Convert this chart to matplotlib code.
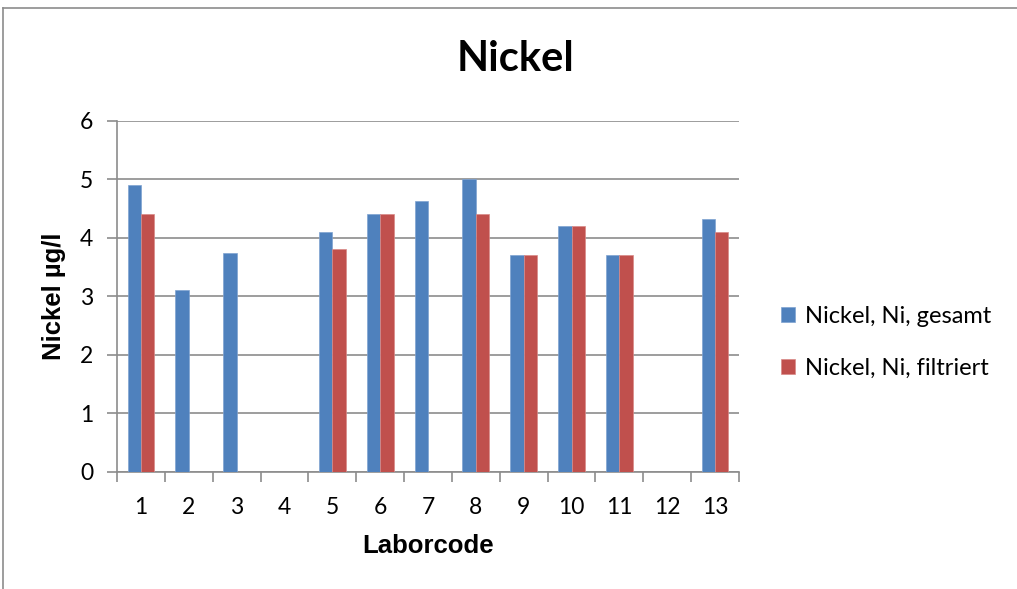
import matplotlib
matplotlib.use("Agg")
import matplotlib.pyplot as plt
from matplotlib.lines import Line2D
import numpy as np

categories = ["1", "2", "3", "4", "5", "6", "7", "8", "9", "10", "11", "12", "13"]
gesamt = [4.9, 3.1, 3.73, np.nan, 4.1, 4.4, 4.62, 5.0, 3.7, 4.2, 3.7, np.nan, 4.32]
filtriert = [4.4, np.nan, np.nan, np.nan, 3.8, 4.4, np.nan, 4.4, 3.7, 4.2, 3.7, np.nan, 4.1]
series_names = ["Nickel, Ni, gesamt", "Nickel, Ni, filtriert"]
yticks = [0, 1, 2, 3, 4, 5, 6]

W, H = 1017, 589
fig = plt.figure(figsize=(W / 100, H / 100), dpi=100)
fig.patch.set_facecolor("white")

# outer chart border (top and left visible)
fig.add_artist(Line2D([3 / W, 1.0], [1 - 8 / H, 1 - 8 / H], color="#8c8c8c", lw=1.2, transform=fig.transFigure))
fig.add_artist(Line2D([3 / W, 3 / W], [0, 1 - 8 / H], color="#8c8c8c", lw=1.2, transform=fig.transFigure))

left, right = 117 / W, 739 / W
bottom, top = 1 - 471.7 / H, 1 - 120.7 / H
ax = fig.add_axes([left, bottom, right - left, top - bottom])

x = np.arange(len(categories))
bw = 0.28
ax.bar(x - bw / 2, gesamt, width=bw, color="#4F81BD", edgecolor="#7fa3d1", linewidth=0.5, label=series_names[0], zorder=3)
ax.bar(x + bw / 2, filtriert, width=bw, color="#C0504D", edgecolor="#d98a88", linewidth=0.5, label=series_names[1], zorder=3)

ax.set_xlim(-0.5, len(categories) - 0.5)
ax.set_ylim(0, 6)
ax.set_yticks(yticks)
ax.set_xticks(x)
ax.set_xticklabels(categories)
ax.set_xticks(np.arange(-0.5, len(categories), 1.0), minor=True)
ax.tick_params(axis="x", which="major", length=0, pad=18, labelsize=16.5)
ax.tick_params(axis="x", which="minor", length=7, width=1.2, color="#8c8c8c", direction="out")
ax.tick_params(axis="y", which="major", length=7, width=1.2, color="#8c8c8c", direction="out", labelsize=16.5, pad=10)
for lbl in ax.get_xticklabels() + ax.get_yticklabels():
    lbl.set_fontfamily(["Lato", "DejaVu Sans"])

ax.grid(axis="y", color="#8c8c8c", linewidth=1.2, zorder=0)
ax.set_axisbelow(True)
for s in ["top", "right"]:
    ax.spines[s].set_visible(False)
for s in ["left", "bottom"]:
    ax.spines[s].set_color("#8c8c8c")
    ax.spines[s].set_linewidth(1.2)

ax.set_xlabel("Laborcode", fontsize=18.5, fontweight="bold", family=["Liberation Sans", "DejaVu Sans"])
ax.xaxis.set_label_coords(0.5, (546 - 471.7) / (471.7 - 120.7) * -1, transform=ax.transAxes)
ax.xaxis.label.set_va("center")
ax.set_ylabel("Nickel µg/l", fontsize=18.5, fontweight="bold", family=["Liberation Sans", "DejaVu Sans"])
ax.yaxis.set_label_coords((54 - 117) / (739 - 117), 0.5, transform=ax.transAxes)
ax.yaxis.label.set_va("center")

fig.text(515 / W, 1 - 59 / H, "Nickel", ha="center", va="center", fontsize=30, fontweight="bold",
         family=["Lato", "DejaVu Sans"])

leg = ax.legend(loc="center left", bbox_to_anchor=(760 / W, 1 - 342 / H), bbox_transform=fig.transFigure,
                frameon=False, prop={"family": ["Lato", "DejaVu Sans"], "size": 17},
                handlelength=0.6, handleheight=0.6, handletextpad=0.4, labelspacing=1.3)

fig.savefig("out.png", dpi=100, facecolor="white")
